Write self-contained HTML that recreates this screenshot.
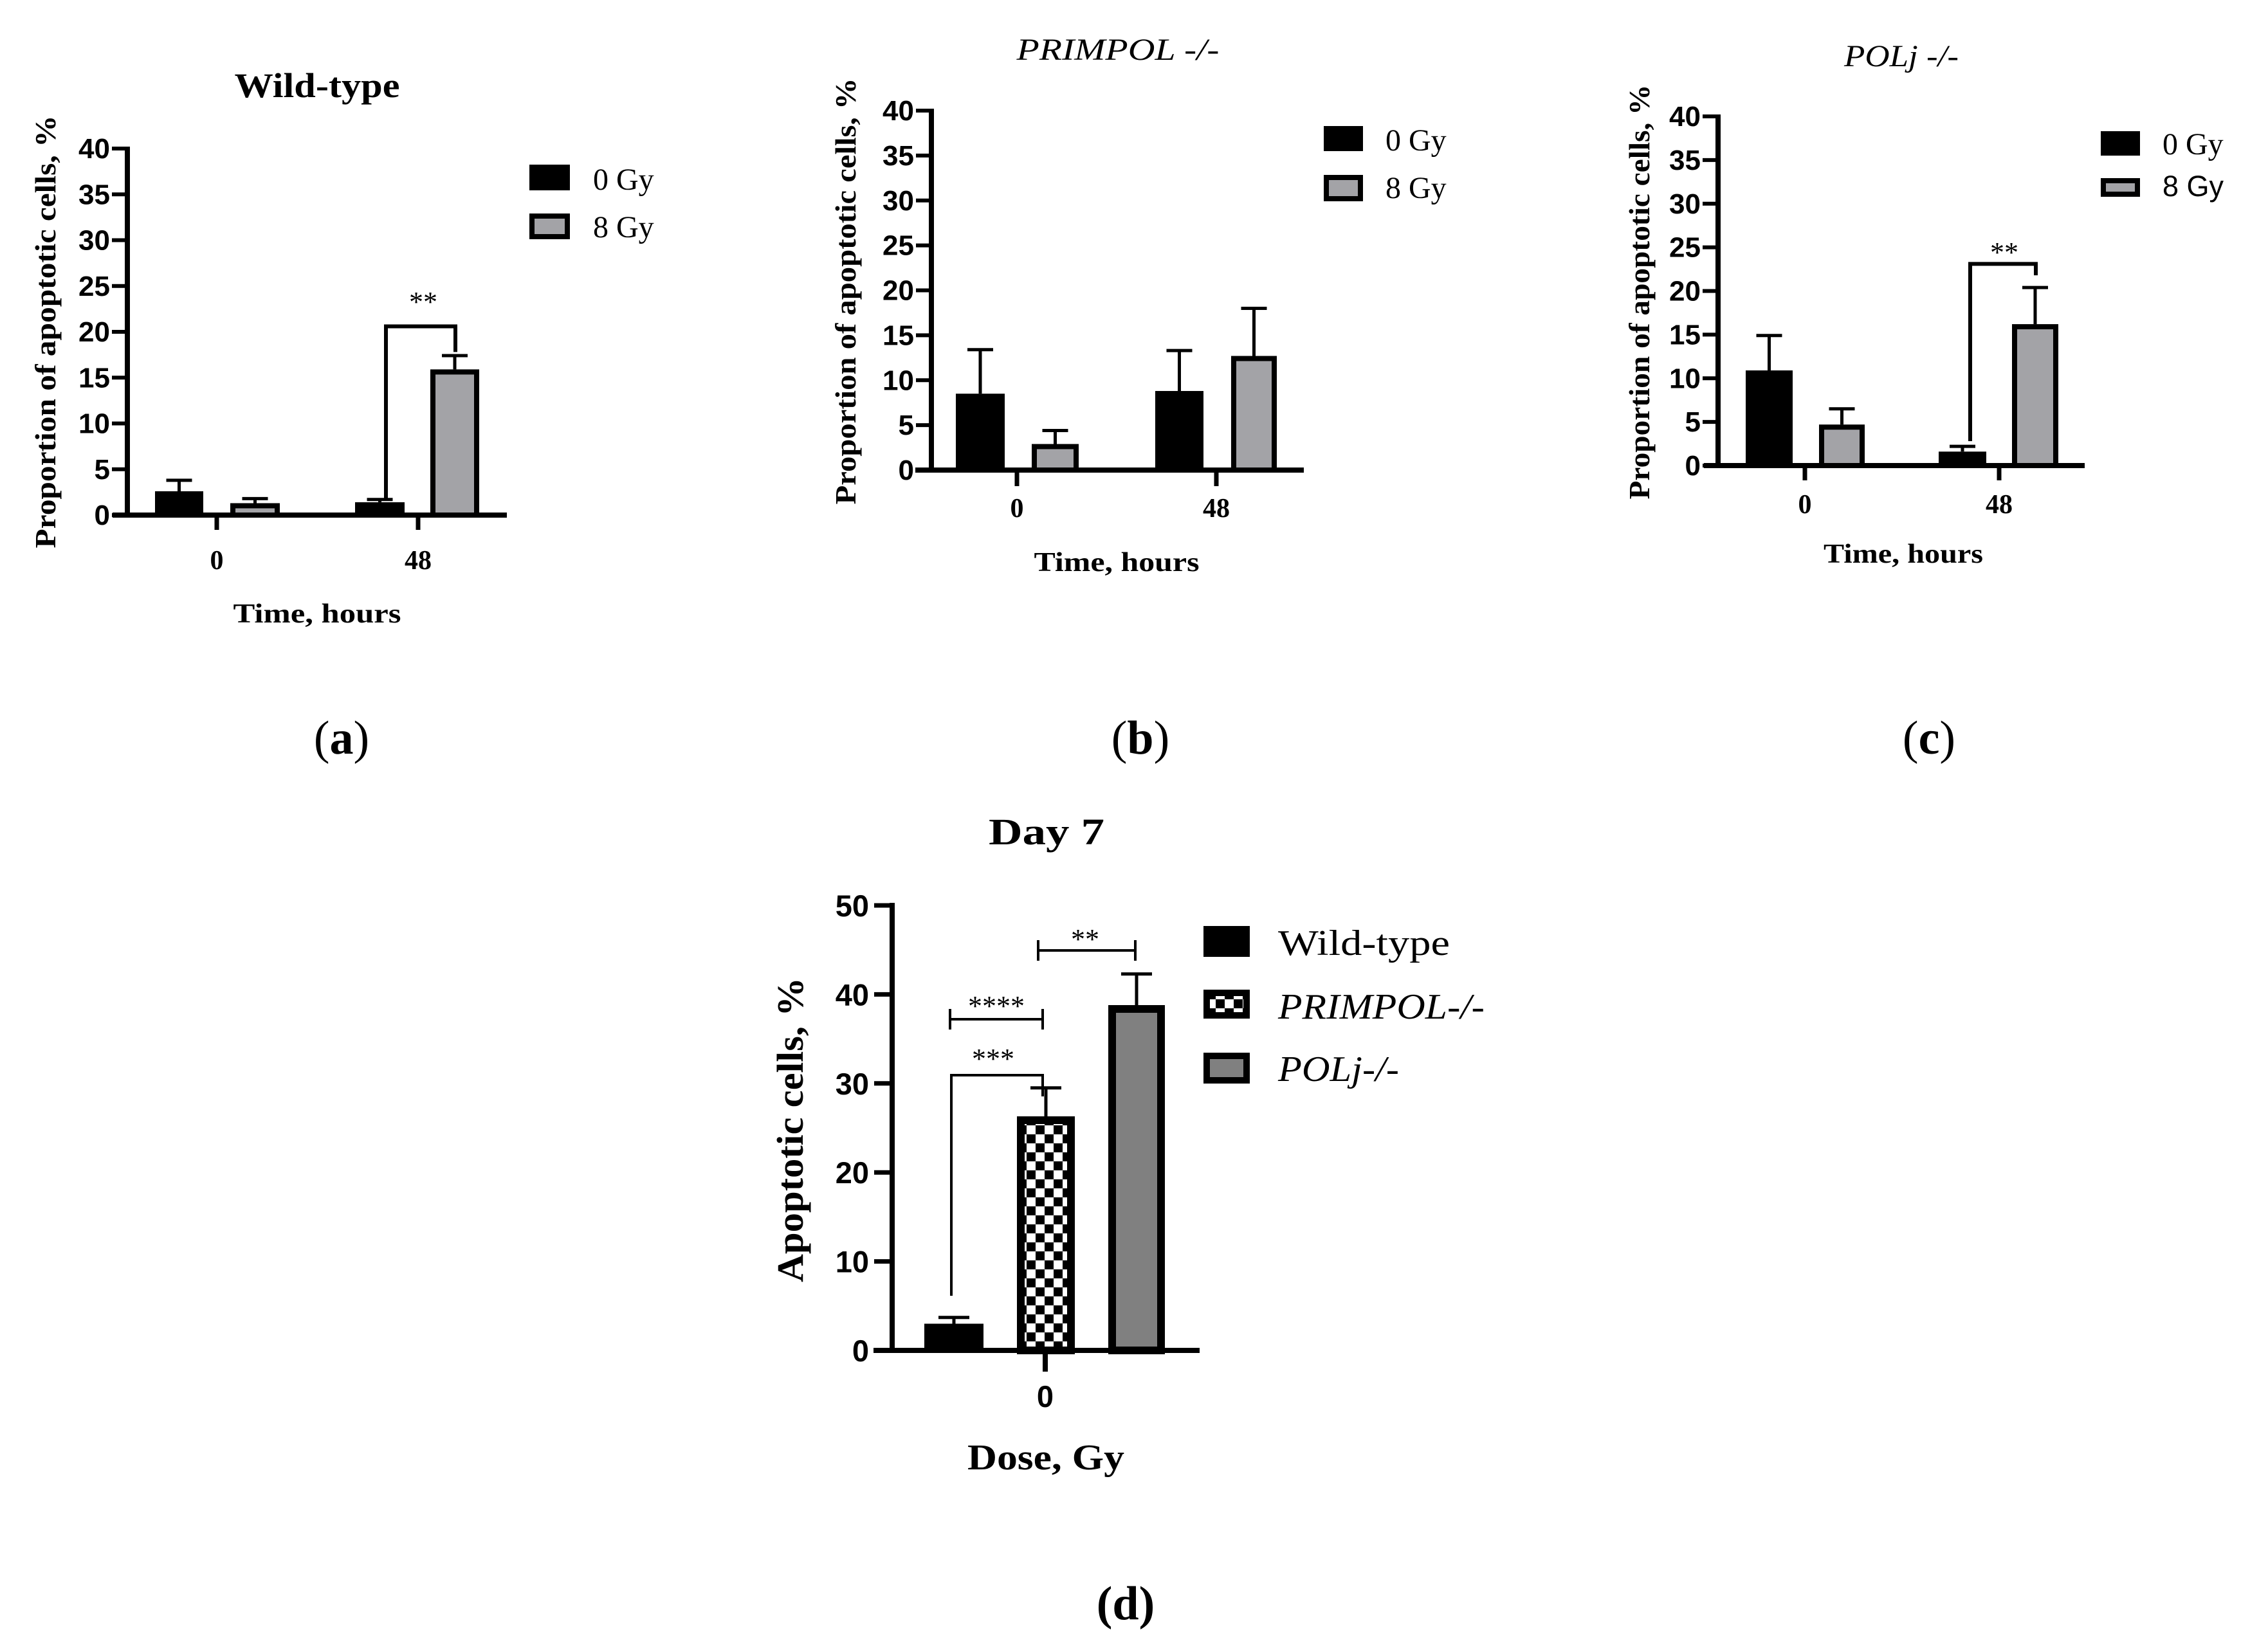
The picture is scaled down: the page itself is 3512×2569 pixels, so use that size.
<!DOCTYPE html>
<html><head><meta charset="utf-8"><style>
html,body{margin:0;padding:0;background:#fff;}
svg{display:block;}
.serif{font-family:"Liberation Serif",serif;}
.sans{font-family:"Liberation Sans",sans-serif;}
</style></head><body>
<svg id="fig" width="3512" height="2569" viewBox="0 0 3512 2569" xmlns="http://www.w3.org/2000/svg">
<defs>
<pattern id="checker" patternUnits="userSpaceOnUse" width="28" height="28" x="0" y="0">
<rect width="28" height="28" fill="#fff"/><rect width="14" height="14" fill="#000"/><rect x="14" y="14" width="14" height="14" fill="#000"/>
</pattern>
</defs>
<g id="root"></g>
</svg>
<script>
// ---- data ----
const timeCats = ["0", "48"];
const tickLabels40 = [0, 5, 10, 15, 20, 25, 30, 35, 40];
const wt0 = [2.6, 1.4];      const wt0Err = [1.2, 0.3];
const wt8 = [1.3, 15.9];     const wt8Err = [0.5, 1.5];
const pp0 = [8.5, 8.8];      const pp0Err = [4.9, 4.5];
const pp8 = [2.9, 12.7];     const pp8Err = [1.5, 5.3];
const pj0 = [10.9, 1.6];     const pj0Err = [4.0, 0.6];
const pj8 = [4.7, 16.2];     const pj8Err = [1.8, 4.2];
const dayCats = ["Wild-type", "PRIMPOL-/-", "POLj-/-"];
const dayVals = [3.0, 26.3, 38.8];
const dayErr = [0.7, 3.2, 3.5];
const tickLabels50 = [0, 10, 20, 30, 40, 50];

const NS = "http://www.w3.org/2000/svg";
const root = document.getElementById("root");
function mk(tag, attrs, parent, text) {
  const e = document.createElementNS(NS, tag);
  for (const k in attrs) e.setAttribute(k, attrs[k]);
  if (text !== undefined) e.textContent = text;
  (parent || root).appendChild(e);
  return e;
}

// ---- panels a-c ----
const panels = [
  {id:"a", ax:198, y0:801, ytop:231, xl:175, xr:788, catX:[337,650], tickBot:824,
   bars:[[241,316,358,435],[552,629,669,745]], s0:wt0, e0:wt0Err, s8:wt8, e8:wt8Err,
   title:"Wild-type", titleX:493, titleY:151, titleW:257, titleBold:true, titleItalic:false,
   yTitleX:86, yTitleC:516, yTitleL:673, labY:885, xTitleY:968, xTitleX:493, xTitleW:261,
   leg:{x:823, y0:[256,296], y8:[332,372], w:63, tx:922, b0:295, b8:369, sans8:false},
   sig:{l:600, r:708, lv:1.55, top:20.6, rv:17.8, sx:658, sy:484}},
  {id:"b", ax:1448, y0:731, ytop:172, xl:1423, xr:2027, catX:[1581,1891], tickBot:756,
   bars:[[1486,1562,1604,1677],[1796,1871,1914,1985]], s0:pp0, e0:pp0Err, s8:pp8, e8:pp8Err,
   title:"PRIMPOL -/-", titleX:1738, titleY:93, titleW:315, titleBold:false, titleItalic:true,
   yTitleX:1330, yTitleC:453, yTitleL:663, labY:804, xTitleY:888, xTitleX:1736, xTitleW:257,
   leg:{x:2058, y0:[196,235], y8:[272,313], w:61, tx:2154, b0:234, b8:308, sans8:false},
   sig:null},
  {id:"c", ax:2671, y0:724, ytop:181, xl:2649, xr:3241, catX:[2806,3108], tickBot:747,
   bars:[[2714,2787,2828,2899],[3014,3088,3128,3200]], s0:pj0, e0:pj0Err, s8:pj8, e8:pj8Err,
   title:"POLj -/-", titleX:2956, titleY:103, titleW:178, titleBold:false, titleItalic:true,
   yTitleX:2564, yTitleC:454, yTitleL:645, labY:798, xTitleY:875, xTitleX:2959, xTitleW:248,
   leg:{x:3266, y0:[204,242], y8:[277,306], w:61, tx:3362, b0:240, b8:305, sans8:true},
   sig:{l:3063, r:3165, lv:2.8, top:23.1, rv:21.8, sx:3116, sy:407}}
];

panels.forEach(p => {
  const g = mk("g", {}, root);
  
  
  const yS = v => p.y0 - (p.y0 - p.ytop) * v / 40;
  const t = mk("text", {x:p.titleX, y:p.titleY, "text-anchor":"middle", class:"serif",
    "font-size":p.titleBold?54:48, "font-weight":p.titleBold?"bold":"normal",
    "font-style":p.titleItalic?"italic":"normal", textLength:p.titleW, lengthAdjust:"spacingAndGlyphs"}, g, p.title);
  
  
  p.bars.forEach((bx, i) => {
    const v0 = p.s0[i], v8 = p.s8[i];
    const b0 = mk("rect", {x:bx[0], y:yS(v0), width:bx[1]-bx[0], height:p.y0-yS(v0), fill:"#000"}, g);
    
    
    const sw = 8;
    const h8 = p.y0 - yS(v8);
    const b8 = mk("rect", {x:bx[2]+sw/2, y:yS(v8)+sw/2, width:bx[3]-bx[2]-sw, height:Math.max(0,h8-sw/2), fill:"#a3a3a7", stroke:"#000", "stroke-width":sw}, g);
    
    
    [[bx[0],bx[1],v0,p.e0[i]],[bx[2],bx[3],v8,p.e8[i]]].forEach(([a,b,v,e]) => {
      const cx = (a+b)/2;
      const el = mk("path", {d:`M${cx},${yS(v)} V${yS(v+e)} M${cx-20},${yS(v+e)} H${cx+20}`, stroke:"#000", "stroke-width":5, fill:"none"}, g);
      
      
    });
  });
  const ya = mk("line", {x1:p.ax, y1:p.ytop-3, x2:p.ax, y2:p.y0+4, stroke:"#000", "stroke-width":8}, g);
  
  
  const xa = mk("line", {x1:p.xl, y1:p.y0, x2:p.xr, y2:p.y0, stroke:"#000", "stroke-width":8}, g);
  
  
  tickLabels40.forEach(v => {
    mk("line", {x1:p.ax-24, y1:yS(v), x2:p.ax, y2:yS(v), stroke:"#000", "stroke-width":6}, g);
    const tl = mk("text", {x:p.ax-27, y:yS(v)+15, "text-anchor":"end", class:"sans", "font-size":44, "font-weight":"bold"}, g, String(v));
    
    
  });
  p.catX.forEach((cx, i) => {
    mk("line", {x1:cx, y1:p.y0, x2:cx, y2:p.tickBot, stroke:"#000", "stroke-width":7}, g);
    const cl = mk("text", {x:cx, y:p.labY, "text-anchor":"middle", class:"serif", "font-size":42, "font-weight":"bold"}, g, timeCats[i]);
    
    
  });
  const yt = mk("text", {x:0, y:0, transform:`translate(${p.yTitleX},${p.yTitleC}) rotate(-90)`, "text-anchor":"middle",
    class:"serif", "font-size":46, "font-weight":"bold", textLength:p.yTitleL, lengthAdjust:"spacingAndGlyphs"}, g, "Proportion of apoptotic cells, %");
  
  
  const xt = mk("text", {x:p.xTitleX, y:p.xTitleY, "text-anchor":"middle", class:"serif", "font-size":42, "font-weight":"bold",
    textLength:p.xTitleW, lengthAdjust:"spacingAndGlyphs"}, g, "Time, hours");
  
  
  const L = p.leg;
  const l0 = mk("rect", {x:L.x, y:L.y0[0], width:L.w, height:L.y0[1]-L.y0[0], fill:"#000"}, g);
  
  
  const l8 = mk("rect", {x:L.x+4, y:L.y8[0]+4, width:L.w-8, height:L.y8[1]-L.y8[0]-8, fill:"#a3a3a7", stroke:"#000", "stroke-width":8}, g);
  
  
  const lt0 = mk("text", {x:L.tx, y:L.b0, class:"serif", "font-size":48}, g, "0 Gy");
  
  
  const lt8 = mk("text", {x:L.tx, y:L.b8, class:L.sans8?"sans":"serif", "font-size":L.sans8?45:48}, g, "8 Gy");
  
  
  if (p.sig) {
    const s = p.sig;
    const br = mk("path", {d:`M${s.l},${yS(s.lv)} V${yS(s.top)} H${s.r} V${yS(s.rv)}`, stroke:"#000", "stroke-width":6, fill:"none"}, g);
    
    
    const st = mk("text", {x:s.sx, y:s.sy, "text-anchor":"middle", class:"serif", "font-size":44}, g, "**");
    
    
  }
});

// ---- panel labels ----
[["a",531],["b",1773],["c",2999]].forEach(([l,x]) => {
  const t = mk("text", {x:x, y:1172, "text-anchor":"middle", class:"serif", "font-size":74}, root);
  
  
  mk("tspan", {}, t, "(");
  mk("tspan", {"font-weight":"bold"}, t, l);
  mk("tspan", {}, t, ")");
});

// ---- panel d ----
(function(){
  const g = mk("g", {}, root);
  
  
  const ax = 1387, y0 = 2100, ytop = 1408, xl = 1358, xr = 1865, catX = 1625;
  const yS = v => y0 - (y0 - ytop) * v / 50;
  const barX = [[1437,1529],[1581,1671],[1723,1811]];
  const fills = ["#000", "url(#checker)", "#808080"];
  const t = mk("text", {x:1627, y:1313, "text-anchor":"middle", class:"serif", "font-size":58, "font-weight":"bold", textLength:180, lengthAdjust:"spacingAndGlyphs"}, g, "Day 7");
  
  
  dayVals.forEach((v, i) => {
    const [a, b] = barX[i];
    let r;
    if (i === 0) r = mk("rect", {x:a, y:yS(v), width:b-a, height:y0-yS(v), fill:"#000"}, g);
    else r = mk("rect", {x:a+6, y:yS(v)+6, width:b-a-12, height:y0-yS(v)-6, fill:fills[i], stroke:"#000", "stroke-width":12}, g);
    
    
    const cx = (a+b)/2;
    const e = mk("path", {d:`M${cx},${yS(v)} V${yS(v+dayErr[i])} M${cx-24},${yS(v+dayErr[i])} H${cx+24}`, stroke:"#000", "stroke-width":5, fill:"none"}, g);
    
    
  });
  const ya = mk("line", {x1:ax, y1:ytop-4, x2:ax, y2:y0+4, stroke:"#000", "stroke-width":8}, g);
  
  
  const xa = mk("line", {x1:xl, y1:y0, x2:xr, y2:y0, stroke:"#000", "stroke-width":8}, g);
  
  
  tickLabels50.forEach(v => {
    mk("line", {x1:ax-28, y1:yS(v), x2:ax, y2:yS(v), stroke:"#000", "stroke-width":7}, g);
    const tl = mk("text", {x:ax-36, y:yS(v)+17, "text-anchor":"end", class:"sans", "font-size":47, "font-weight":"bold"}, g, String(v));
    
    
  });
  mk("line", {x1:catX, y1:y0, x2:catX, y2:2133, stroke:"#000", "stroke-width":8}, g);
  const cl = mk("text", {x:catX, y:2188, "text-anchor":"middle", class:"sans", "font-size":47, "font-weight":"bold"}, g, "0");
  
  
  const yt = mk("text", {x:0, y:0, transform:"translate(1248,1757) rotate(-90)", "text-anchor":"middle", class:"serif", "font-size":58, "font-weight":"bold", textLength:474, lengthAdjust:"spacingAndGlyphs"}, g, "Apoptotic cells, %");
  
  
  const xt = mk("text", {x:1626, y:2285, "text-anchor":"middle", class:"serif", "font-size":56, "font-weight":"bold", textLength:244, lengthAdjust:"spacingAndGlyphs"}, g, "Dose, Gy");
  
  
  const b1 = mk("path", {d:`M1479,2015 V1672 H1621 V1705`, stroke:"#000", "stroke-width":4, fill:"none"}, g);
  
  
  const b2 = mk("path", {d:`M1477,1585 H1621 M1477,1569 V1601 M1621,1569 V1601`, stroke:"#000", "stroke-width":4, fill:"none"}, g);
  
  
  const b3 = mk("path", {d:`M1614,1478 H1765 M1614,1462 V1494 M1765,1462 V1494`, stroke:"#000", "stroke-width":4, fill:"none"}, g);
  
  
  [["***",1544,1661],["****",1549,1579],["**",1687,1475]].forEach(([s,x,y]) => {
    const st = mk("text", {x:x, y:y, "text-anchor":"middle", class:"serif", "font-size":44}, g, s);
    
    
  });
  const legY = [[1440,1488],[1539,1584],[1637,1685]];
  const legW = [267, 321, 188];
  const legB = [1485, 1584, 1681];
  dayCats.forEach((c, i) => {
    let r;
    if (i === 0) r = mk("rect", {x:1871, y:legY[i][0], width:72, height:legY[i][1]-legY[i][0], fill:"#000"}, g);
    else r = mk("rect", {x:1876, y:legY[i][0]+5, width:62, height:legY[i][1]-legY[i][0]-10, fill:fills[i], stroke:"#000", "stroke-width":10}, g);
    
    
    const lt = mk("text", {x:1987, y:legB[i], class:"serif", "font-size":56, "font-style":i===0?"normal":"italic", textLength:legW[i], lengthAdjust:"spacingAndGlyphs"}, g, c);
    
    
  });
  const pl = mk("text", {x:1750, y:2518, "text-anchor":"middle", class:"serif", "font-size":74, "font-weight":"bold"}, root, "(d)");
  
  
})();
</script>
</body></html>
